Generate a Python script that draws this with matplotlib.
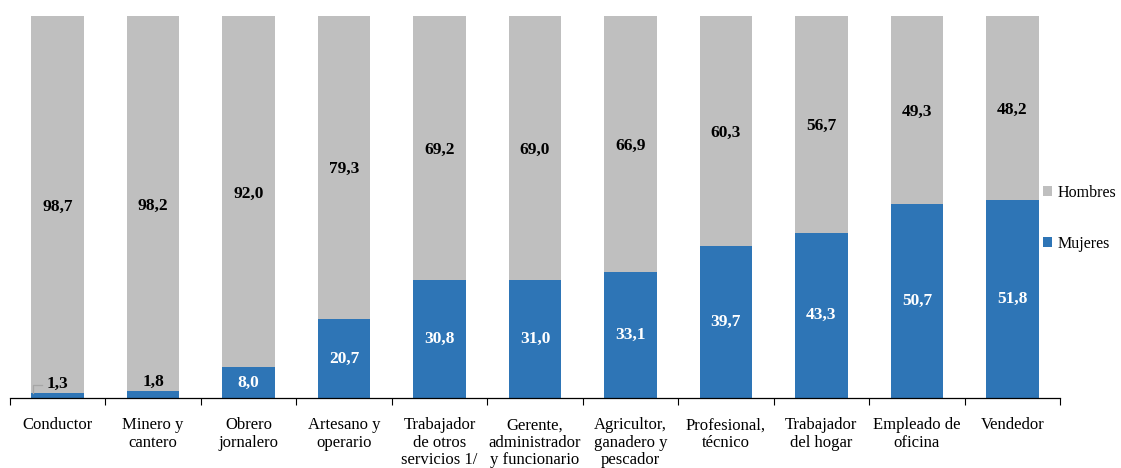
import numpy as np
import matplotlib
matplotlib.use('Agg')
import matplotlib.pyplot as plt

plt.rcParams['font.family'] = ['Liberation Serif', 'DejaVu Serif']

categorias = ['Conductor', 'Minero y\ncantero', 'Obrero\njornalero', 'Artesano y\noperario',
              'Trabajador\nde otros\nservicios 1/', 'Gerente,\nadministrador\ny funcionario',
              'Agricultor,\nganadero y\npescador', 'Profesional,\ntécnico', 'Trabajador\ndel hogar',
              'Empleado de\noficina', 'Vendedor']
mujeres = [1.3, 1.8, 8.0, 20.7, 30.8, 31.0, 33.1, 39.7, 43.3, 50.7, 51.8]
hombres = [98.7, 98.2, 92.0, 79.3, 69.2, 69.0, 66.9, 60.3, 56.7, 49.3, 48.2]

c_muj = '#2E75B6'
c_hom = '#BFBFBF'

fig = plt.figure(figsize=(11.21, 4.68), dpi=100)
ax = fig.add_axes([10/1121, 70/468, 1050/1121, 382/468])
x = np.arange(len(categorias))
w = 0.55
ax.bar(x, mujeres, w, color=c_muj, label='Mujeres')
ax.bar(x, hombres, w, bottom=mujeres, color=c_hom, label='Hombres')

fs_val = 12.5
for i in range(len(x)):
    m, h = mujeres[i], hombres[i]
    if m < 5:
        ax.text(x[i], m + 2.3, f'{m:.1f}'.replace('.', ','), ha='center', va='center',
                fontsize=fs_val, fontweight='bold', color='black')
    else:
        ax.text(x[i], m / 2, f'{m:.1f}'.replace('.', ','), ha='center', va='center',
                fontsize=fs_val, fontweight='bold', color='white')
    ax.text(x[i], m + h / 2 - 0.5, f'{h:.1f}'.replace('.', ','), ha='center', va='center',
            fontsize=fs_val, fontweight='bold', color='black')

# leader line for Conductor
ax.plot([x[0] - 0.26, x[0] - 0.26, x[0] - 0.17], [1.3, 3.4, 3.4], color='#A6A6A6', lw=0.9)

ax.set_xlim(-0.5, len(x) - 0.5)
ax.set_ylim(0, 100)
ax.set_xticks(np.arange(len(x) + 1) - 0.5)
ax.set_xticklabels([])
ax.set_xticks(x, minor=True)
ax.set_xticklabels(categorias, minor=True, fontsize=12, linespacing=1.1)
ax.tick_params(axis='x', which='minor', length=0, pad=14)
ax.tick_params(axis='x', which='major', length=5, direction='out', width=0.8)
ax.set_yticks([])
for s in ['top', 'right', 'left']:
    ax.spines[s].set_visible(False)
ax.spines['bottom'].set_linewidth(0.9)

handles, labels = ax.get_legend_handles_labels()
fig.legend(handles[::-1], labels[::-1], loc='center left', bbox_to_anchor=(1033/1121, 0.534),
           frameon=False, fontsize=11.5, handlelength=0.6, handleheight=0.6,
           handletextpad=0.35, labelspacing=2.2, borderaxespad=0.2)

plt.savefig('out.png', dpi=100)
